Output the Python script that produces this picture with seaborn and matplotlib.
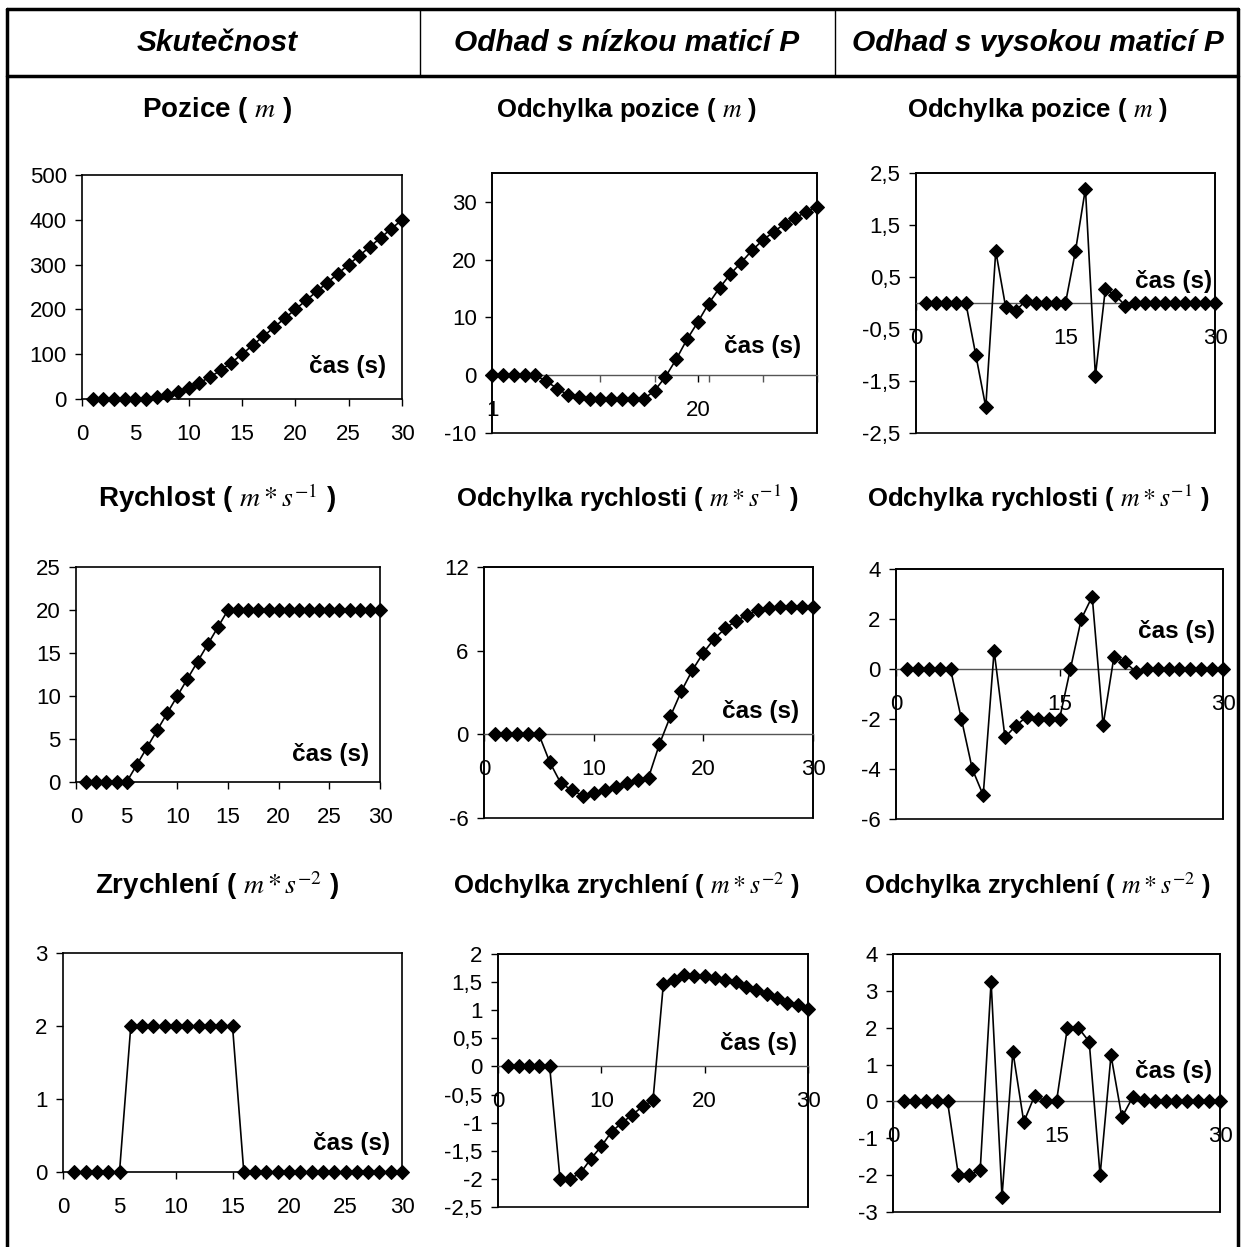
import numpy as np
import pandas as pd
import matplotlib
matplotlib.use("Agg")
import matplotlib.pyplot as plt
from matplotlib.lines import Line2D
from matplotlib.ticker import FuncFormatter
import seaborn as sns

sns.set_style("ticks")
plt.rcParams['font.family'] = ['Liberation Sans', 'DejaVu Sans']
plt.rcParams['mathtext.fontset'] = 'stix'
plt.rcParams['axes.unicode_minus'] = False
plt.rcParams.update({'text.color': 'black', 'axes.labelcolor': 'black',
                     'xtick.color': 'black', 'ytick.color': 'black'})

# time axes
t = list(range(1, 31))
t_cat = list(range(1, 32))

# Skutecnost
poz_real = [0, 0, 0, 0, 0, 1, 4, 9, 16, 25, 36, 49, 64, 81, 100, 120, 140, 160, 180, 200,
            220, 240, 260, 280, 300, 320, 340, 360, 380, 400]
rych_real = [0, 0, 0, 0, 0, 2, 4, 6, 8, 10, 12, 14, 16, 18, 20, 20, 20, 20, 20, 20,
             20, 20, 20, 20, 20, 20, 20, 20, 20, 20]
zrych_real = [0, 0, 0, 0, 0, 2, 2, 2, 2, 2, 2, 2, 2, 2, 2, 0, 0, 0, 0, 0,
              0, 0, 0, 0, 0, 0, 0, 0, 0, 0]

# odhad s nizkou matici P
poz_low = [0, 0, 0, 0, 0, -1.0, -2.3, -3.4, -3.8, -4.1, -4.1, -4.1, -4.1, -4.1, -4.1, -2.7,
           -0.3, 2.75, 6.2, 9.2, 12.4, 15.1, 17.5, 19.5, 21.6, 23.4, 24.8, 26.2, 27.2, 28.3, 29.2]
rych_low = [0, 0, 0, 0, 0, -2.0, -3.5, -4.0, -4.4, -4.2, -4.0, -3.75, -3.5, -3.3, -3.1, -0.7,
            1.3, 3.1, 4.6, 5.85, 6.85, 7.6, 8.15, 8.55, 8.9, 9.05, 9.15, 9.15, 9.15, 9.15]
zrych_low = [0, 0, 0, 0, 0, -2.0, -2.0, -1.89, -1.64, -1.42, -1.16, -1.0, -0.86, -0.71, -0.6,
             1.46, 1.54, 1.62, 1.61, 1.61, 1.57, 1.54, 1.5, 1.42, 1.36, 1.28, 1.21, 1.13, 1.1, 1.03]

# odhad s vysokou matici P
poz_high = [0, 0, 0, 0, 0, -1.0, -2.0, 1.0, -0.08, -0.15, 0.04, 0, 0, 0, 0, 1.0, 2.2, -1.4,
            0.27, 0.15, -0.05, 0, 0, 0, 0, 0, 0, 0, 0, 0]
rych_high = [0, 0, 0, 0, 0, -2.0, -4.0, -5.05, 0.73, -2.73, -2.27, -1.9, -2.0, -2.0, -2.0, 0,
             2.0, 2.9, -2.25, 0.5, 0.27, -0.1, 0, 0, 0, 0, 0, 0, 0, 0]
zrych_high = [0, 0, 0, 0, 0, -2.0, -2.0, -1.86, 3.25, -2.58, 1.35, -0.56, 0.16, 0, 0, 2.0, 2.0,
              1.62, -2.0, 1.25, -0.43, 0.12, 0.05, 0, 0, 0, 0, 0, 0, 0]

headers = ["Skutečnost", "Odhad s nízkou maticí P", "Odhad s vysokou maticí P"]
titles = [
    [r"Pozice ( $m$ )", r"Odchylka pozice ( $m$ )", r"Odchylka pozice ( $m$ )"],
    [r"Rychlost ( $m*s^{-1}$ )", r"Odchylka rychlosti ( $m*s^{-1}$ )", r"Odchylka rychlosti ( $m*s^{-1}$ )"],
    [r"Zrychlení ( $m*s^{-2}$ )", r"Odchylka zrychlení ( $m*s^{-2}$ )", r"Odchylka zrychlení ( $m*s^{-2}$ )"],
]
xlabel = "čas (s)"

W, H = 1242, 1247
fig = plt.figure(figsize=(W / 100, H / 100), dpi=100)


def px_axes(l, r, top, bot):
    return fig.add_axes([l / W, 1 - bot / H, (r - l) / W, (bot - top) / H])


comma = FuncFormatter(lambda v, p: f"{v:g}".replace('.', ','))

# (x, y, box px, ylim, yticks, xticks, zero axis, label pos)
panels = [
    (t, poz_real, (82, 402, 175, 399), (0, 500), np.arange(0, 501, 100), np.arange(0, 31, 5), False, (0.83, 0.143)),
    (t_cat, poz_low, (492, 817, 173, 433), (-10, 35), np.arange(-10, 31, 10), None, True, (0.833, 0.331)),
    (t, poz_high, (916, 1215, 173, 433), (-2.5, 2.5), np.arange(-2.5, 2.6, 1), [0, 15, 30], True, (0.86, 0.581)),
    (t, rych_real, (76, 380, 567, 782), (0, 25), np.arange(0, 26, 5), np.arange(0, 31, 5), False, (0.836, 0.127)),
    (t, rych_low, (484, 813, 567, 818), (-6, 12), np.arange(-6, 13, 6), [0, 10, 20, 30], True, (0.84, 0.425)),
    (t, rych_high, (896, 1223, 569, 819), (-6, 4), np.arange(-6, 5, 2), [0, 15, 30], True, (0.858, 0.749)),
    (t, zrych_real, (63, 402, 953, 1172), (0, 3), np.arange(0, 4, 1), np.arange(0, 31, 5), False, (0.852, 0.132)),
    (t, zrych_low, (498, 808, 954, 1207), (-2.5, 2), np.arange(-2.5, 2.1, 0.5), [0, 10, 20, 30], True, (0.839, 0.647)),
    (t, zrych_high, (893, 1220, 954, 1212), (-3, 4), np.arange(-3, 5, 1), [0, 15, 30], True, (0.857, 0.543)),
]

for i, (x, y, box, ylim, yt, xt, zero_axis, lab) in enumerate(panels):
    ax = px_axes(*box)
    sns.lineplot(x=x, y=y, ax=ax, color='black', linewidth=1.2, marker='D', markersize=7,
                 markeredgecolor='black', clip_on=False, zorder=5)
    ax.set_ylim(*ylim)
    ax.set_yticks(yt)
    ax.yaxis.set_major_formatter(comma)
    if i == 1:
        ax.set_xlim(1, 31)
        ax.set_xticks([1, 20])
        ax.set_xticklabels(["1", "20"])
        ax.set_xticks(np.arange(1, 32, 5), minor=True)
        ax.tick_params(axis='x', which='major', length=0)
        ax.tick_params(axis='x', which='minor', direction='out', length=5, width=1, color='#555555')
    else:
        ax.set_xlim(0, 30)
        ax.set_xticks(xt)
        ax.xaxis.set_major_formatter(comma)
    for s in ax.spines.values():
        s.set_color('black')
        s.set_linewidth(1.2)
    if zero_axis:
        ax.spines['bottom'].set_position(('data', 0))
        ax.spines['bottom'].set_color('#555555')
        ax.spines['bottom'].set_linewidth(1.0)
        ax.patch.set_edgecolor('black')
        ax.patch.set_linewidth(1.2)
    ax.tick_params(axis='both', labelsize=16, direction='out', length=5, width=1)
    ax.tick_params(axis='y', pad=6)
    ax.tick_params(axis='x', which='both', pad=13)
    ax.set_xlabel("")
    ax.set_ylabel("")
    ax.text(lab[0], lab[1], xlabel, transform=ax.transAxes, ha='center', va='center',
            fontsize=17.5, fontweight='bold')

# table frame
lw = 2.5
frame = [((7, 1238), (9, 9)), ((7, 7), (9, H + 5)), ((1238, 1238), (9, H + 5)), ((7, 1238), (76, 76))]
for xs, ys in frame:
    fig.add_artist(Line2D([v / W for v in xs], [1 - v / H for v in ys], color='black', linewidth=lw))
for xc in (420, 835):
    fig.add_artist(Line2D([xc / W, xc / W], [1 - 9 / H, 1 - 76 / H], color='black', linewidth=1))

# headers and titles
col_c = [217, 627, 1038]
for c, h in zip(col_c, headers):
    fig.text(c / W, 1 - 43 / H, h, ha='center', va='center', fontsize=21.5, fontweight='bold', style='italic')

row_y = [110, 498, 886]
for r in range(3):
    for c in range(3):
        fs = 20 if c == 0 else 18.5
        fig.text(col_c[c] / W, 1 - row_y[r] / H, titles[r][c], ha='center', va='center',
                 fontsize=fs, fontweight='bold')

fig.savefig("out.png", dpi=100)
